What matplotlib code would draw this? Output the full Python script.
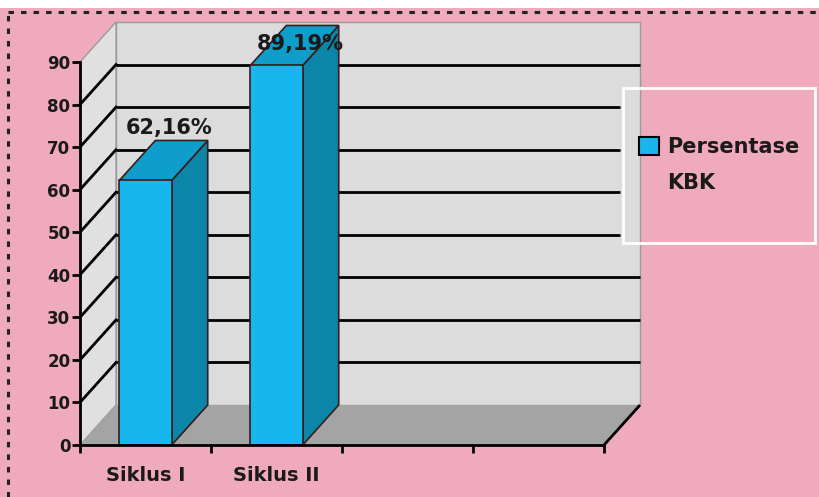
import matplotlib.pyplot as plt
from matplotlib.patches import Polygon, Rectangle, Patch
from matplotlib.lines import Line2D

categories = ["Siklus I", "Siklus II"]
values = [62.16, 89.19]
n_slots = 4
series_name = ["Persentase", "KBK"]
yticks = list(range(0, 100, 10))

W, H = 820, 497
pink = '#F0AABD'
wall = '#DCDCDC'
bar_front = '#17B6EE'
bar_top = '#0F9DCB'
bar_side = '#0B86A8'
edge = '#3A1C1C'
txt = '#1A1A1A'

# depth of the fake 3d box, in data units
DX, DY = 0.275, 9.4

plt.rcParams['font.family'] = ['DejaVu Sans']
plt.rcParams['font.weight'] = 'bold'

fig = plt.figure(figsize=(W / 100, H / 100), dpi=100, facecolor=pink)
ax = fig.add_axes([80 / W, 52 / H, 524 / W, 383 / H])
ax.set_xlim(0, n_slots)
ax.set_ylim(0, 90)
ax.patch.set_visible(False)

# page strip + dashed border
fig.patches.append(Rectangle((0, 1 - 8 / H), 1, 8 / H, transform=fig.transFigure,
                             fc='white', ec='none', zorder=0))
fig.lines.append(Line2D([8 / W, 1], [1 - 12 / H, 1 - 12 / H], transform=fig.transFigure,
                        color='#222222', lw=2.2, linestyle=(0, (1.8, 2.3))))
fig.lines.append(Line2D([8 / W, 8 / W], [0, 1 - 12 / H], transform=fig.transFigure,
                        color='#222222', lw=2.2, linestyle=(0, (1.8, 2.3))))

# legend box position (figure fraction)
lbox = (623 / W, 1 - 243 / H)
lw_, lh_ = 192 / W, 155 / H
to_data = ax.transData.inverted()
(lx0, ly0), (lx1, ly1) = to_data.transform(fig.transFigure.transform(
    [lbox, (lbox[0] + lw_, lbox[1] + lh_)]))

# walls and floor
top = yticks[-1]
ax.add_patch(Rectangle((DX, DY), n_slots, top, fc=wall, ec='#9A9A9A', lw=1,
                       zorder=0.5, clip_on=False))
ax.add_patch(Polygon([(0, 0), (0, top), (DX, top + DY), (DX, DY)], closed=True,
                     fc='#E0E0E0', ec='#9A9A9A', lw=1, zorder=0.6, clip_on=False))
ax.add_patch(Polygon([(0, 0), (n_slots, 0), (n_slots + DX, DY), (DX, DY)], closed=True,
                     fc='#A4A4A4', ec='none', zorder=0.7, clip_on=False))
ax.plot([n_slots, n_slots + DX], [0, DY], color='black', lw=2, zorder=0.8, clip_on=False,
        solid_capstyle='butt')

for v in yticks[1:-1]:
    # the legend box hides the wall grid where it overlaps it
    xend = n_slots + DX
    if ly0 <= v + DY <= ly1:
        xend = min(xend, lx0 - 0.02)
    ax.plot([DX, xend], [v + DY, v + DY], color='black', lw=2, zorder=1, clip_on=False,
            solid_capstyle='butt')
    ax.plot([0, DX], [v, v + DY], color='black', lw=2, zorder=1, clip_on=False)

# bars
bw = 0.4
for i, v in enumerate(values):
    x0 = i + 0.5 - bw / 2
    x1 = i + 0.5 + bw / 2
    ax.add_patch(Polygon([(x1, 0), (x1, v), (x1 + DX, v + DY), (x1 + DX, DY)], closed=True,
                         fc=bar_side, ec=edge, lw=1.2, zorder=2, clip_on=False))
    ax.add_patch(Polygon([(x0, v), (x1, v), (x1 + DX, v + DY), (x0 + DX, v + DY)], closed=True,
                         fc=bar_top, ec=edge, lw=1.2, zorder=2, clip_on=False))
    ax.add_patch(Rectangle((x0, 0), bw, v, fc=bar_front, ec=edge, lw=1.2, zorder=2.1,
                           clip_on=False))
    label = f"{v:.2f}".replace('.', ',') + '%'
    ax.text(i + 0.5 + 0.18, min(v + DY + 1.5, 92.8), label, ha='center', va='baseline',
            fontsize=15, fontweight='bold', color=txt, zorder=3, clip_on=False)

# axes
for s in ['top', 'right']:
    ax.spines[s].set_visible(False)
for s in ['left', 'bottom']:
    ax.spines[s].set_linewidth(2)
    ax.spines[s].set_zorder(3)
ax.set_yticks(yticks)
ax.tick_params(axis='y', direction='out', length=6, width=2, pad=1,
               labelsize=12, labelcolor=txt)
ax.set_xticks(range(n_slots + 1))
ax.set_xticklabels([])
ax.tick_params(axis='x', which='major', direction='out', length=6, width=2)
ax.set_xticks([i + 0.5 for i in range(len(categories))], minor=True)
ax.set_xticklabels(categories, minor=True)
ax.tick_params(axis='x', which='minor', length=0, pad=15, labelsize=14, labelcolor=txt)

# legend
fig.patches.append(Rectangle(lbox, lw_, lh_, transform=fig.transFigure,
                             fc='none', ec='white', lw=2, zorder=4))
handles = [Patch(fc=bar_front, ec='black', lw=1.5), Patch(fc='none', ec='none')]
leg = fig.legend(handles, series_name, loc='upper left', bbox_to_anchor=(639 / W, 1 - 137 / H),
                 frameon=False, fontsize=15, handlelength=0.95, handleheight=0.95,
                 handletextpad=0.4, labelspacing=0.75, borderpad=0, borderaxespad=0)
for t in leg.get_texts():
    t.set_fontweight('bold')
    t.set_color(txt)

fig.savefig('out.png', dpi=100, facecolor=pink)
